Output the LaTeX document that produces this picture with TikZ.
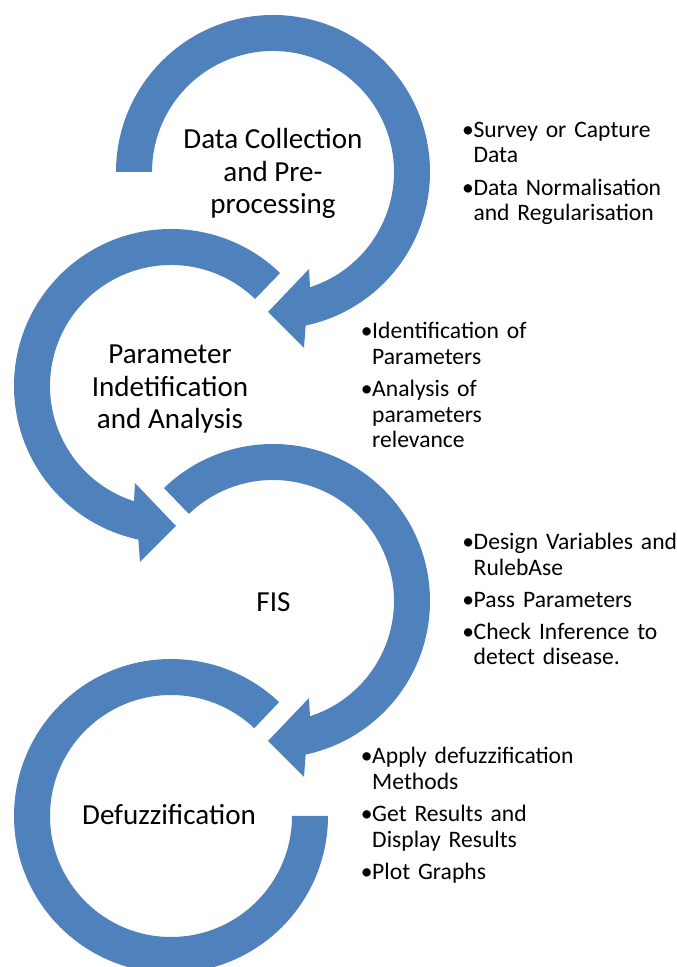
\documentclass[tikz,border=0pt]{standalone}
\usepackage{fontspec}
\setmainfont{Carlito}
\definecolor{ringblue}{RGB}{79,129,189}
\newcommand{\bitem}[1]{\noindent\makebox[8.6pt][l]{\textbullet}\begin{tabular}[t]{@{}l@{}}#1\end{tabular}}
\begin{document}
\begin{tikzpicture}[x=0.75pt,y=0.75pt,
	stagetext/.style={align=center,font=\fontsize{21.8}{24.15}\selectfont,inner sep=0pt,anchor=base},
	notetext/.style={text width=165pt,align=left,font=\fontsize{17.7}{19.05}\selectfont,inner sep=0pt,anchor=base west,
		execute at begin node={\setlength{\parskip}{4.4pt}}}]
			\useasboundingbox (0,0) rectangle (676,967);
			% the four rings
			\fill[ringblue,shift={(273,795)}] (180:157) arc[start angle=180,end angle=-78,radius=157] -- (31,-176) -- (-5,-140) -- (36,-97) -- (-72.2:121) arc[start angle=-72.2,end angle=180,radius=121] -- cycle;
			\fill[ringblue,shift={(171,581)},xscale=-1] (134:157) arc[start angle=134,end angle=-78,radius=157] -- (31,-176) -- (-5,-140) -- (36,-97) -- (-72.2:121) arc[start angle=-72.2,end angle=134,radius=121] -- cycle;
			\fill[ringblue,shift={(273,366)}] (134:157) arc[start angle=134,end angle=-78,radius=157] -- (31,-176) -- (-5,-140) -- (36,-97) -- (-72.2:121) arc[start angle=-72.2,end angle=134,radius=121] -- cycle;
			\fill[ringblue,shift={(171,151)}] (46.5:157) arc[start angle=46.5,end angle=360,radius=157] -- (0:121) arc[start angle=360,end angle=46.5,radius=121] -- cycle;
			% stage names (anchored at the last baseline)
			\node[stagetext] (dc) at (273,753.7) {Data Collection\\and Pre-\\processing};
			\node[stagetext] (pia) at (170,538.7) {Parameter\\Indetification\\and Analysis};
			\node[stagetext] (fis) at (273.5,355.3) {FIS};
			\node[stagetext] (dfz) at (169,142) {Defuzzification};
			% notes
			\node[notetext] (n1) at (461.8,829.7) {\bitem{Survey or Capture\\Data}\par
				\bitem{Data Normalisation\\and Regularisation}};
			\node[notetext] (n2) at (360.5,628) {\bitem{Identification of\\Parameters}\par
				\bitem{Analysis of\\parameters\\relevance}};
			\node[notetext] (n3) at (462,417) {\bitem{Design Variables and\\RulebAse}\par
				\bitem{Pass Parameters}\par
				\bitem{Check Inference to\\detect disease.}};
			\node[notetext] (n4) at (360.5,203) {\bitem{Apply defuzzification\\Methods}\par
				\bitem{Get Results and\\Display Results}\par
				\bitem{Plot Graphs}};
\end{tikzpicture}
\end{document}
